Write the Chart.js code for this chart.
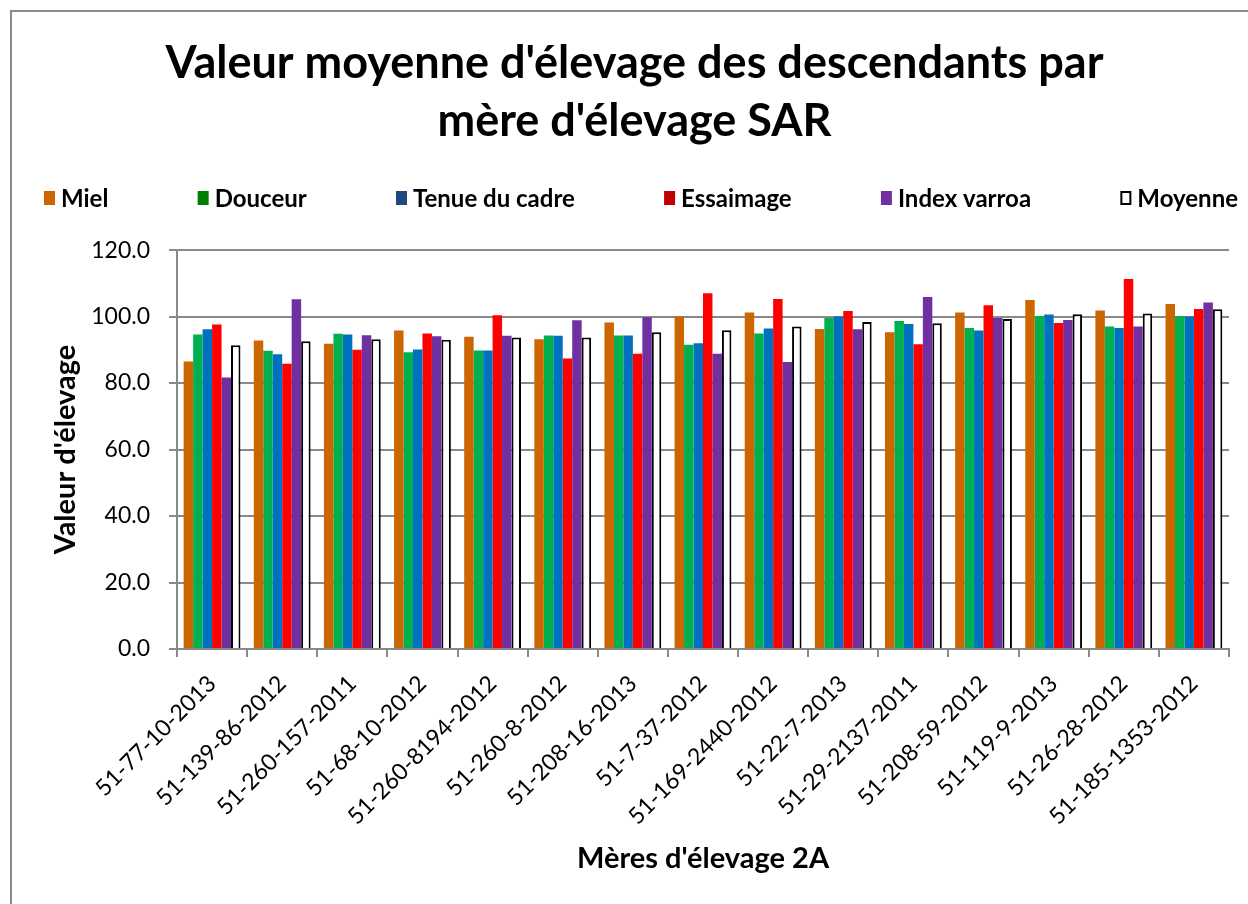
<!DOCTYPE html>
<html>
<head>
<meta charset="utf-8">
<script src="https://cdn.jsdelivr.net/npm/chart.js@4.4.0/dist/chart.umd.min.js"></script>
<style>
  html, body { margin: 0; padding: 0; background: #fff; }
  canvas { display: block; }
</style>
</head>
<body>
<canvas id="myChart" width="1248" height="904"></canvas>
<script>
var categories = ['51-77-10-2013', '51-139-86-2012', '51-260-157-2011', '51-68-10-2012', '51-260-8194-2012',
	'51-260-8-2012', '51-208-16-2013', '51-7-37-2012', '51-169-2440-2012', '51-22-7-2013',
	'51-29-2137-2011', '51-208-59-2012', '51-119-9-2013', '51-26-28-2012', '51-185-1353-2012'];

var miel      = [86.5, 92.8, 91.8, 95.8, 93.9, 93.2, 98.2, 100.0, 101.2, 96.3, 95.3, 101.2, 105.0, 101.8, 103.8];
var douceur   = [94.6, 89.7, 94.8, 89.3, 89.8, 94.3, 94.3, 91.5, 94.9, 99.6, 98.7, 96.6, 100.2, 97.0, 100.2];
var tenue     = [96.2, 88.7, 94.6, 90.1, 89.8, 94.2, 94.3, 92.0, 96.4, 100.0, 97.8, 95.8, 100.6, 96.6, 100.0];
var essaimage = [97.6, 85.8, 90.0, 94.9, 100.4, 87.4, 88.8, 107.0, 105.3, 101.7, 91.7, 103.4, 98.1, 111.3, 102.3];
var varroa    = [81.7, 105.2, 94.4, 94.1, 94.2, 98.9, 99.8, 88.8, 86.3, 96.2, 105.9, 99.6, 99.0, 97.0, 104.2];
var moyenne   = [91.4, 92.6, 93.2, 93.0, 93.7, 93.7, 95.3, 95.9, 97.0, 98.4, 98.0, 99.3, 100.7, 100.9, 102.2];

var yTicks = [0, 20, 40, 60, 80, 100, 120];

var FONT = "Lato, 'Open Sans', sans-serif";
var GRID = '#898989';

// legend drawn by hand so the spacing matches the Excel one
var legendItems = [
	{ text: 'Miel', fill: '#CC6600', stroke: null },
	{ text: 'Douceur', fill: '#008000', stroke: null },
	{ text: 'Tenue du cadre', fill: '#1F497D', stroke: null },
	{ text: 'Essaimage', fill: '#C00000', stroke: null },
	{ text: 'Index varroa', fill: '#7030A0', stroke: null },
	{ text: 'Moyenne', fill: '#FFFFFF', stroke: '#000000' }
];

var framePlugin = {
	id: 'frame',
	beforeDraw: function(chart) {
		var c = chart.ctx;
		c.save();
		c.fillStyle = '#fff';
		c.fillRect(0, 0, chart.width, chart.height);
		c.strokeStyle = '#8a8a8a';
		c.lineWidth = 2;
		c.beginPath();
		c.moveTo(11, chart.height);
		c.lineTo(11, 11);
		c.lineTo(chart.width, 11);
		c.stroke();
		c.restore();
	},
	afterDraw: function(chart) {
		var c = chart.ctx;
		c.save();
		c.font = 'bold 24px ' + FONT;
		c.textBaseline = 'middle';
		var boxW = 11, boxH = 14, gap = 6;
		var left = 44, right = 1238, y = 198;
		var widths = legendItems.map(function(it) { return boxW + gap + c.measureText(it.text).width; });
		var total = widths.reduce(function(a, b) { return a + b; }, 0);
		var space = (right - left - total) / (legendItems.length - 1);
		var x = left;
		legendItems.forEach(function(it, i) {
			c.fillStyle = it.fill;
			c.fillRect(x, y - boxH / 2, boxW, boxH);
			if (it.stroke) {
				c.strokeStyle = it.stroke;
				c.lineWidth = 2;
				c.strokeRect(x + 1, y - boxH / 2 + 1, boxW - 2, boxH - 2);
			}
			c.fillStyle = '#000';
			c.fillText(it.text, x + boxW + gap, y + 1);
			x += widths[i] + space;
		});
		c.restore();
	}
};

var ctx = document.getElementById('myChart').getContext('2d');
var myChart = new Chart(ctx, {
	type: 'bar',
	data: {
		labels: categories,
		datasets: [
			{ label: 'Miel', data: miel, backgroundColor: '#CC6600', borderWidth: 0 },
			{ label: 'Douceur', data: douceur, backgroundColor: '#00B050', borderWidth: 0 },
			{ label: 'Tenue du cadre', data: tenue, backgroundColor: '#0070C0', borderWidth: 0 },
			{ label: 'Essaimage', data: essaimage, backgroundColor: '#FF0000', borderWidth: 0 },
			{ label: 'Index varroa', data: varroa, backgroundColor: '#7030A0', borderWidth: 0 },
			{ label: 'Moyenne', data: moyenne, backgroundColor: '#FFFFFF', borderColor: '#000000', borderWidth: 2 }
		]
	},
	options: {
		responsive: false,
		animation: false,
		devicePixelRatio: 1,
		layout: { padding: { left: 40, right: 19, top: 0, bottom: 0 } },
		datasets: { bar: { categoryPercentage: 0.81, barPercentage: 1.0 } },
		plugins: {
			legend: { display: false },
			tooltip: { enabled: false },
			title: {
				display: true,
				text: ["Valeur moyenne d'élevage des descendants par", "mère d'élevage SAR"],
				color: '#000',
				font: { family: FONT, size: 45, weight: 'bold', lineHeight: 1.29 },
				padding: { top: 34, bottom: 100 }
			}
		},
		scales: {
			x: {
				offset: true,
				grid: { display: true, drawOnChartArea: false, offset: true, color: GRID, lineWidth: 2, tickLength: 8 },
				border: { display: true, color: GRID, width: 2 },
				ticks: { color: '#000', font: { family: FONT, size: 23 }, minRotation: 45, maxRotation: 45, autoSkip: false, padding: 13 },
				title: {
					display: true, text: "Mères d'élevage 2A", color: '#000',
					font: { family: FONT, size: 29, weight: 'bold' },
					padding: { top: 4, bottom: 28 }
				},
				afterFit: function(scale) { scale.height = 904 - 649; }
			},
			y: {
				min: 0,
				max: 120,
				afterBuildTicks: function(scale) {
					scale.ticks = yTicks.map(function(v) { return { value: v }; });
				},
				grid: { color: GRID, lineWidth: 2, tickLength: 8 },
				border: { display: true, color: GRID, width: 2 },
				ticks: {
					color: '#000', font: { family: FONT, size: 23 }, padding: 19,
					callback: function(v) { return Number(v).toFixed(1); }
				},
				title: {
					display: true, text: "Valeur d'élevage", color: '#000',
					font: { family: FONT, size: 29, weight: 'bold' },
					padding: { top: 8, bottom: 4 }
				},
				afterFit: function(scale) { scale.width = 137; }
			}
		}
	},
	plugins: [framePlugin]
});
</script>
</body>
</html>
